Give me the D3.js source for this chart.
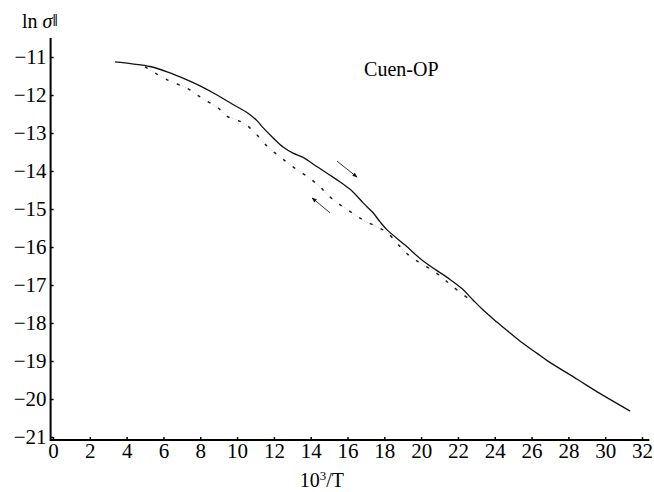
<!DOCTYPE html>
<html>
<head>
<meta charset="utf-8">
<script src="https://cdn.jsdelivr.net/npm/d3@7"></script>
<style>
  body { margin: 0; background: #fff; }
  svg { display: block; font-family: "Liberation Serif", "DejaVu Serif", serif; }
</style>
</head>
<body>
<svg id="chart"></svg>
<script>
(function() {
    const width = 654;
    const height = 492;

    // --- DATA ---
    const xTicks = [0, 2, 4, 6, 8, 10, 12, 14, 16, 18, 20, 22, 24, 26, 28, 30, 32];
    const yTicks = [-11, -12, -13, -14, -15, -16, -17, -18, -19, -20, -21];

    // upper (solid) branch
    const upperX = [3.37, 4.3, 5.27, 6.2, 7.28, 7.99, 8.91, 9.78, 10.54, 11.09, 11.41, 11.96, 12.5, 13.04, 13.59,
        14.35, 15.05, 15.6, 16.3, 16.85, 17.39, 17.77, 18.15, 19.13, 20.11, 21.41, 22.23, 22.83, 23.37, 24.13,
        24.67, 25.38, 26.3, 26.85, 28.48, 29.73, 31.36];
    const upperY = [-11.13, -11.18, -11.25, -11.39, -11.6, -11.76, -12.0, -12.25, -12.46, -12.68, -12.86, -13.13,
        -13.37, -13.53, -13.64, -13.89, -14.11, -14.29, -14.55, -14.84, -15.1, -15.34, -15.55, -15.95, -16.37,
        -16.8, -17.1, -17.4, -17.66, -17.98, -18.2, -18.48, -18.8, -18.99, -19.48, -19.86, -20.32];

    // lower (dotted) branch
    const lowerX = [5.0, 6.2, 7.28, 7.83, 8.26, 8.97, 9.46, 10.0, 10.43, 10.98, 11.68, 12.34, 13.04, 13.86, 14.51,
        15.05, 15.6, 16.25, 16.85, 17.6, 18.15, 19.29, 20.87, 21.74, 22.83];
    const lowerY = [-11.26, -11.6, -11.82, -12.0, -12.13, -12.34, -12.56, -12.66, -12.76, -13.0, -13.37, -13.63,
        -13.89, -14.16, -14.42, -14.68, -14.89, -15.1, -15.29, -15.47, -15.62, -16.2, -16.7, -17.05, -17.45];

    // arrows: [x0, y0, x1, y1], head at (x1, y1)
    const arrows = [
        [15.43, -13.74, 16.52, -14.16],
        [15.05, -15.1, 14.08, -14.71]
    ];

    const svg = d3.select("#chart")
        .attr("width", width)
        .attr("height", height);

    // --- SCALES ---
    const x = d3.scaleLinear().domain([0, 32]).range([53, 642]);
    const y = d3.scaleLinear().domain([-21, -11]).range([437, 57]);

    const x0 = x(-0.13);
    const y0 = y(-21.08);

    // --- AXES ---
    const xAxis = svg.append("g")
        .attr("transform", `translate(0,${y0})`)
        .call(d3.axisBottom(x).tickValues(xTicks).tickSizeInner(-3).tickSizeOuter(0).tickPadding(3));
    const yAxis = svg.append("g")
        .attr("transform", `translate(${x0},0)`)
        .call(d3.axisLeft(y).tickValues(yTicks).tickSizeInner(-3).tickSizeOuter(0).tickPadding(4));

    [xAxis, yAxis].forEach(g => {
        g.selectAll("text").attr("font-size", "21px").attr("font-family", "Liberation Serif").attr("fill", "#000");
        g.selectAll(".tick line").attr("stroke", "#000").attr("stroke-width", 1.5);
        g.select(".domain").remove();
    });

    svg.append("line")
        .attr("x1", x0).attr("x2", x(32.4))
        .attr("y1", y0).attr("y2", y0)
        .attr("stroke", "#000").attr("stroke-width", 2);
    svg.append("line")
        .attr("x1", x0).attr("x2", x0)
        .attr("y1", y0 + 1).attr("y2", y(-10.5))
        .attr("stroke", "#000").attr("stroke-width", 2);

    // --- CURVES ---
    const line = d3.line()
        .x(d => x(d[0]))
        .y(d => y(d[1]))
        .curve(d3.curveCatmullRom.alpha(0.5));

    const upper = upperX.map((v, i) => [v, upperY[i]]);
    const lower = lowerX.map((v, i) => [v, lowerY[i]]);

    svg.append("path")
        .datum(lower)
        .attr("d", line)
        .attr("fill", "none")
        .attr("stroke", "#bbb")
        .attr("stroke-width", 0.8)
        .attr("stroke-dasharray", "1,2");
    svg.append("path")
        .datum(lower)
        .attr("d", line)
        .attr("fill", "none")
        .attr("stroke", "#222")
        .attr("stroke-width", 1.5)
        .attr("stroke-dasharray", "3,9");

    svg.append("path")
        .datum(upper)
        .attr("d", line)
        .attr("fill", "none")
        .attr("stroke", "#111")
        .attr("stroke-width", 1.3);

    // --- ARROWS ---
    svg.append("defs").append("marker")
        .attr("id", "head")
        .attr("viewBox", "0 0 10 10")
        .attr("refX", 9).attr("refY", 5)
        .attr("markerWidth", 7).attr("markerHeight", 5)
        .attr("orient", "auto")
        .append("path")
        .attr("d", "M0,1 L10,5 L0,9 Z")
        .attr("fill", "#111");

    svg.append("g").selectAll("line")
        .data(arrows)
        .join("line")
        .attr("x1", d => x(d[0])).attr("y1", d => y(d[1]))
        .attr("x2", d => x(d[2])).attr("y2", d => y(d[3]))
        .attr("stroke", "#333")
        .attr("stroke-width", 1)
        .attr("marker-end", "url(#head)");

    // --- LABELS ---
    svg.append("text")
        .attr("x", x(16.9)).attr("y", y(-11.5))
        .attr("font-size", "20px")
        .text("Cuen-OP");

    const yl = svg.append("text")
        .attr("x", 22).attr("y", 28)
        .attr("font-size", "20px");
    yl.append("tspan").text("ln ");
    yl.append("tspan").attr("font-style", "italic").text("σ");
    yl.append("tspan").attr("font-size", "13px").attr("dy", "-3").text("∥");

    const xl = svg.append("text")
        .attr("x", x(13.4)).attr("y", 487)
        .attr("font-size", "20px");
    xl.append("tspan").text("10");
    xl.append("tspan").attr("font-size", "13px").attr("dy", "-7").text("3");
    xl.append("tspan").attr("dy", "7").text("/T");
})();
</script>
</body>
</html>
